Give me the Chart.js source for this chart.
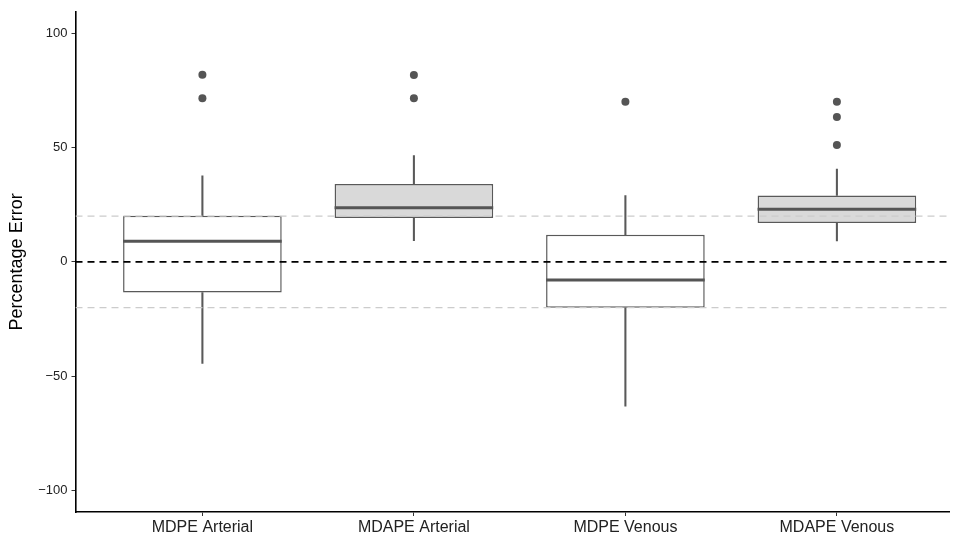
<!DOCTYPE html>
<html>
<head>
<meta charset="utf-8">
<script src="https://cdn.jsdelivr.net/npm/chart.js@4.4.1/dist/chart.umd.min.js"></script>
<style>
  body { margin: 0; background: #fff; }
  #wrap { width: 953px; height: 533px; }
</style>
</head>
<body>
<div id="wrap"><canvas id="boxChart" width="953" height="533"></canvas></div>
<script>
// Box plot summaries
const categories = ['MDPE Arterial', 'MDAPE Arterial', 'MDPE Venous', 'MDAPE Venous'];
const lowerWhisker = [-44.5, 9.3, -63.2, 9.2];
const q1 = [-13.4, 19.2, -20.1, 17.0];
const median = [9.0, 23.7, -7.9, 23.1];
const q3 = [20.2, 34.1, 11.9, 29.1];
const upperWhisker = [37.7, 46.6, 29.0, 40.6];
const outliers = [[81.9, 71.7], [81.8, 71.7], [70.1], [70.1, 63.4, 51.2]];
const boxFill = ['#ffffff', '#d9d9d9', '#ffffff', '#d9d9d9'];
const yTicks = [-100, -50, 0, 50, 100];
const refLines = [0, 20, -20];
const refColors = ['#000000', '#cccccc', '#cccccc'];

const xMin = 0.4, xMax = 4.53;
const yMin = -109.5, yMax = 109.5;
const dark = '#595959';

const xs = categories.map((c, i) => i + 1);

// Median lines drawn right after the boxes, using the bar elements and y scale
const medianPlugin = {
    id: 'medians',
    afterDatasetDraw(chart, args) {
        if (chart.data.datasets[args.index].label !== 'boxes') return;
        const ctx = chart.ctx;
        const yScale = chart.scales.y;
        ctx.save();
        ctx.strokeStyle = '#555555';
        ctx.lineWidth = 3;
        args.meta.data.forEach((bar, i) => {
            const y = yScale.getPixelForValue(median[i]);
            ctx.beginPath();
            ctx.moveTo(bar.x - bar.width / 2, y);
            ctx.lineTo(bar.x + bar.width / 2, y);
            ctx.stroke();
        });
        ctx.restore();
    }
};

const datasets = [];

// whiskers
datasets.push({
    type: 'bar', label: 'upper whiskers', order: 6, grouped: false,
    data: xs.map((x, i) => ({ x: x, y: [q3[i], upperWhisker[i]] })),
    backgroundColor: dark, barThickness: 1.4, borderWidth: 0
});
datasets.push({
    type: 'bar', label: 'lower whiskers', order: 6, grouped: false,
    data: xs.map((x, i) => ({ x: x, y: [lowerWhisker[i], q1[i]] })),
    backgroundColor: dark, barThickness: 1.4, borderWidth: 0
});

// boxes
datasets.push({
    type: 'bar', label: 'boxes', order: 5, grouped: false,
    data: xs.map((x, i) => ({ x: x, y: [q1[i], q3[i]] })),
    backgroundColor: boxFill, borderColor: dark, borderWidth: 1.5,
    borderSkipped: false, barPercentage: 0.75, categoryPercentage: 1
});

// reference lines
refLines.forEach((v, i) => {
    datasets.push({
        type: 'line', label: 'ref ' + v, order: 3 - i,
        data: [{ x: xMin, y: v }, { x: xMax, y: v }],
        borderColor: refColors[i], borderWidth: i === 0 ? 1.6 : 1.3,
        borderDash: [7, 5], pointRadius: 0, fill: false
    });
});

// outliers
const outlierPoints = [];
outliers.forEach((list, i) => list.forEach(v => outlierPoints.push({ x: xs[i], y: v })));
datasets.push({
    type: 'scatter', label: 'outliers', order: 0,
    data: outlierPoints,
    backgroundColor: '#555555', borderWidth: 0, pointRadius: 4
});

const ctx = document.getElementById('boxChart').getContext('2d');
new Chart(ctx, {
    data: { datasets: datasets },
    plugins: [medianPlugin],
    options: {
        responsive: false,
        animation: false,
        layout: { padding: { top: 10, right: 0, left: 0, bottom: 0 } },
        plugins: { legend: { display: false }, tooltip: { enabled: false } },
        scales: {
            x: {
                type: 'linear', min: xMin, max: xMax, offset: false,
                afterBuildTicks: scale => { scale.ticks = xs.map(v => ({ value: v })); },
                afterFit: scale => { scale.height = 21; },
                grid: { display: true, offset: false, drawOnChartArea: false, drawTicks: true, tickLength: 4, tickColor: '#333333' },
                border: { display: true, color: '#000000', width: 1.6 },
                ticks: {
                    autoSkip: false, maxRotation: 0, padding: 2,
                    color: '#222222', font: { family: 'Liberation Sans', size: 16 },
                    callback: v => categories[Math.round(v) - 1] || ''
                }
            },
            y: {
                type: 'linear', min: yMin, max: yMax,
                afterBuildTicks: scale => { scale.ticks = yTicks.map(v => ({ value: v })); },
                afterFit: scale => { scale.width = 75.5; },
                grid: { display: true, drawOnChartArea: false, drawTicks: true, tickLength: 4, tickColor: '#333333' },
                border: { display: true, color: '#000000', width: 1.6 },
                title: {
                    display: true, text: 'Percentage Error', color: '#000000',
                    font: { family: 'Liberation Sans', size: 18 }, padding: { top: 6, bottom: 4 }
                },
                ticks: {
                    padding: 4, color: '#222222', font: { family: 'Liberation Sans', size: 13 },
                    callback: v => v < 0 ? '\u2212' + Math.abs(v) : String(v)
                }
            }
        }
    }
});
</script>
</body>
</html>
